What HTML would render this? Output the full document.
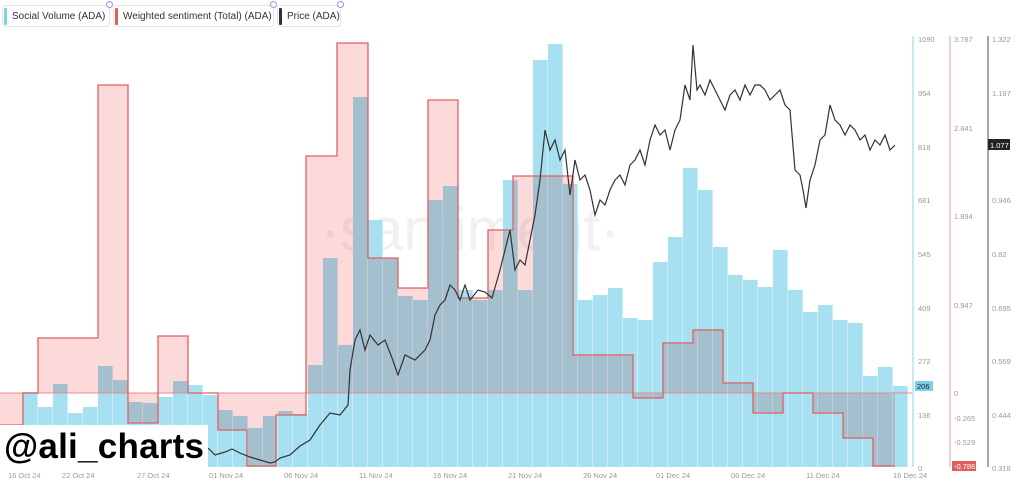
<!DOCTYPE html>
<html><head><style>
body{margin:0;background:#fff;width:1024px;height:486px;overflow:hidden;font-family:"Liberation Sans",sans-serif}
.lg{position:absolute;top:5px;height:22px;border:1px solid #e4e4e4;border-radius:3px;font-size:10px;color:#333;line-height:22px;padding-left:9px;box-sizing:border-box;white-space:nowrap;overflow:visible}
.lg:before{content:"";position:absolute;left:1px;top:2px;width:3px;height:17px;border-radius:1px;background:var(--c)}
.lg:after{content:"";position:absolute;right:-4px;top:-5px;width:5px;height:5px;border-radius:50%;border:1.5px solid #8c9ad8;background:#fff}
</style></head><body>
<svg width="1024" height="486" style="position:absolute;left:0;top:0" font-family="Liberation Sans, sans-serif">
<text x="470" y="250" font-size="60" fill="#f1f1f1" text-anchor="middle">·santiment·</text>
<g id="bars" fill="#a6e0f1"></g>
<path id="sent" fill="#fcdada" style="mix-blend-mode:multiply"></path>
<line x1="0" y1="393" x2="912" y2="393" stroke="#e88" stroke-width="1"/>
<path id="sentl" fill="none" stroke="#e06060" stroke-width="1.3"></path>
<polyline id="price" fill="none" stroke="#333" stroke-width="1.2"></polyline>
<rect x="0" y="425" width="208" height="43" fill="#fff"/>
<text x="4" y="458" font-size="35" font-weight="bold" fill="#000" textLength="200">@ali_charts</text>
<line x1="913" y1="36" x2="913" y2="467" stroke="#8fd3ea"/>
<line x1="950" y1="36" x2="950" y2="467" stroke="#f0a0a0"/>
<line x1="988" y1="36" x2="988" y2="467" stroke="#888" stroke-width="1.5"/>
<g font-size="7.5" fill="#999">
<text x="918" y="42">1090</text><text x="918" y="96">954</text><text x="918" y="150">818</text><text x="918" y="203">681</text><text x="918" y="257">545</text><text x="918" y="311">409</text><text x="918" y="364">272</text><text x="918" y="418">136</text><text x="918" y="471">0</text>
<text x="954" y="42">3.787</text><text x="954" y="131">2.841</text><text x="954" y="219">1.894</text><text x="954" y="308">0.947</text><text x="954" y="396">0</text><text x="954" y="421">-0.265</text><text x="954" y="445">-0.529</text>
<text x="992" y="42">1.322</text><text x="992" y="96">1.197</text><text x="992" y="203">0.946</text><text x="992" y="257">0.82</text><text x="992" y="311">0.695</text><text x="992" y="364">0.569</text><text x="992" y="418">0.444</text><text x="992" y="471">0.318</text>
<text x="8" y="478">16 Oct 24</text><text x="62" y="478">22 Oct 24</text><text x="137" y="478">27 Oct 24</text><text x="209" y="478">01 Nov 24</text><text x="284" y="478">06 Nov 24</text><text x="359" y="478">11 Nov 24</text><text x="433" y="478">16 Nov 24</text><text x="508" y="478">21 Nov 24</text><text x="583" y="478">26 Nov 24</text><text x="656" y="478">01 Dec 24</text><text x="731" y="478">06 Dec 24</text><text x="806" y="478">11 Dec 24</text><text x="893" y="478">16 Dec 24</text>
</g>
<rect x="915" y="381" width="18" height="10" fill="#7ccfe6"/><text x="917" y="389" font-size="7.5" fill="#123">206</text>
<rect x="952" y="461" width="24" height="10" fill="#e06060"/><text x="954" y="469" font-size="7.5" fill="#fff">-0.786</text>
<rect x="988" y="139" width="22" height="11" fill="#222"/><text x="990" y="148" font-size="7.5" fill="#fff">1.077</text>
</svg>
<div class="lg" style="left:2px;width:108px;--c:#7ccfe6">Social Volume (ADA)</div>
<div class="lg" style="left:113px;width:161px;--c:#e06060">Weighted sentiment (Total) (ADA)</div>
<div class="lg" style="left:277px;width:64px;--c:#333">Price (ADA)</div>
<script>
var tops=[425,392,407,384,413,407,366,380,402,403,397,381,385,395,410,416,428,416,411,414,365,258,345,97,220,258,296,300,200,186,290,300,290,180,290,60,44,184,300,295,288,318,320,262,237,168,190,247,275,280,287,250,290,312,305,320,323,376,367,386];
var g=document.getElementById('bars'),h='';
tops.forEach(function(t,i){var x=8+i*15.0;h+='<rect x="'+x+'" y="'+t+'" width="14.6" height="'+(467-t)+'"/>';});
g.innerHTML=h;
var s=[[0,23,425],[23,38,393],[38,98,338],[98,128,85],[128,158,423],[158,188,336],[188,218,393],[218,247,430],[247,276,466],[276,306,415],[306,337,156],[337,368,43],[368,398,258],[398,428,288],[428,458,100],[458,488,298],[488,513,230],[513,573,176],[573,633,355],[633,663,398],[663,693,343],[693,723,330],[723,753,383],[753,783,413],[783,813,393],[813,843,413],[843,873,438],[873,895,466]];
var d='M0 393',dl='M0 '+s[0][2];
s.forEach(function(a){d+=' L'+a[0]+' '+a[2]+' L'+a[1]+' '+a[2];dl+=' L'+a[0]+' '+a[2]+' L'+a[1]+' '+a[2];});
d+=' L895 393 Z';
document.getElementById('sent').setAttribute('d',d);
document.getElementById('sentl').setAttribute('d',dl);
var p=[[208,448],[215,455],[225,452],[232,449],[240,453],[250,457],[260,460],[270,463],[275,462],[280,458],[290,455],[300,446],[310,440],[320,425],[330,413],[340,415],[348,405],[350,370],[355,340],[360,330],[365,350],[370,335],[378,345],[385,340],[392,358],[398,375],[405,355],[415,360],[425,350],[430,340],[435,315],[440,305],[445,300],[450,285],[455,290],[460,300],[465,285],[470,300],[478,290],[485,292],[492,298],[500,270],[505,250],[510,230],[515,270],[520,260],[525,265],[530,240],[535,215],[540,180],[545,130],[550,150],[555,140],[560,160],[565,150],[570,195],[575,160],[580,180],[585,175],[590,190],[595,215],[600,200],[605,205],[610,190],[615,180],[620,175],[625,185],[630,165],[635,160],[640,150],[645,165],[650,140],[655,125],[660,135],[665,130],[670,150],[675,130],[680,120],[685,85],[690,100],[693,45],[697,90],[700,85],[705,95],[710,80],[715,90],[720,100],[725,110],[730,95],[735,90],[740,100],[745,85],[750,95],[755,85],[760,85],[765,90],[770,100],[775,95],[780,90],[785,105],[790,110],[795,170],[800,175],[803,190],[806,208],[810,180],[815,165],[820,140],[825,135],[830,105],[835,120],[840,125],[845,135],[850,125],[855,130],[860,140],[865,135],[870,150],[875,140],[880,145],[885,135],[890,150],[895,145]];
document.getElementById('price').setAttribute('points',p.map(function(a){return a.join(',')}).join(' '));
</script>
</body></html>
